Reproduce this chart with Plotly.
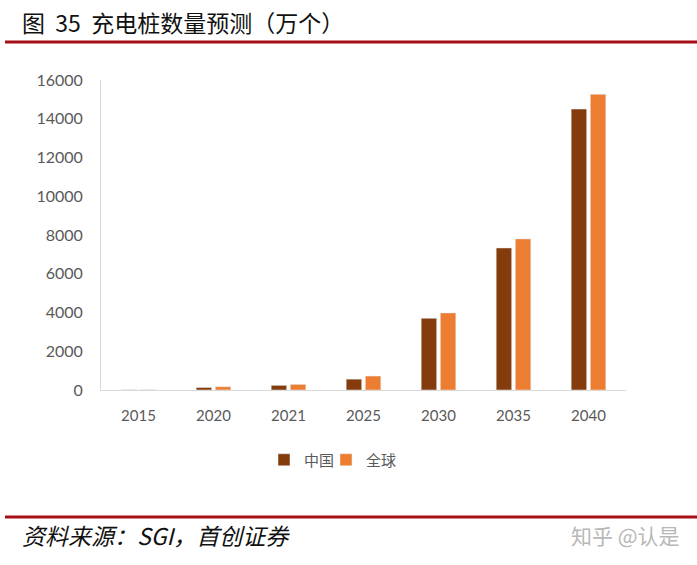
import plotly.graph_objects as go

years = ["2015", "2020", "2021", "2025", "2030", "2035", "2040"]
china = [6, 130, 240, 560, 3700, 7330, 14500]
world = [10, 170, 290, 720, 3980, 7800, 15260]
series_names = ["中国", "全球"]
y_ticks = [0, 2000, 4000, 6000, 8000, 10000, 12000, 14000, 16000]
y_tick_text = [str(v) for v in y_ticks]

W, H = 697, 565
L, R, T, B = 101, 71, 80, 175
PW, PH = W - L - R, H - T - B

def px(x):
    return (x - L) / PW

def py(y):
    return (H - B - y) / PH

fig = go.Figure()
fig.add_trace(go.Bar(x=years, y=china, name=series_names[0], marker_color="#843C0C", legend="legend"))
fig.add_trace(go.Bar(x=years, y=world, name=series_names[1], marker_color="#ED7D31", legend="legend2"))

leg_common = dict(orientation="h", yanchor="middle", xanchor="left", itemwidth=30,
                  font=dict(family="'Noto Sans CJK SC'", size=15, color="#595959"),
                  bgcolor="rgba(0,0,0,0)")

fig.update_layout(
    width=W, height=H,
    margin=dict(l=L, r=R, t=T, b=B, autoexpand=False),
    paper_bgcolor="white", plot_bgcolor="white",
    barmode="group", bargap=0.49, bargroupgap=0.19,
    font=dict(family="Lato, 'Noto Sans CJK SC'", size=15, color="#595959"),
    showlegend=True,
    legend=dict(x=px(264), y=py(460), **leg_common),
    legend2=dict(x=px(326), y=py(460), **leg_common),
    xaxis=dict(showline=True, linecolor="#D9D9D9", linewidth=1, ticks="", showgrid=False,
               tickfont=dict(family="Lato", size=15, color="#595959"), ticklabelstandoff=12,
               fixedrange=True),
    yaxis=dict(range=[0, 16000], tickvals=y_ticks, ticktext=y_tick_text, showline=True,
               linecolor="#D9D9D9", linewidth=1, ticks="", showgrid=False, zeroline=False,
               tickfont=dict(family="Lato", size=16, color="#595959"), ticklabelstandoff=14,
               fixedrange=True),
)

# red rules
fig.add_shape(type="line", xref="paper", yref="paper", x0=px(5), x1=px(697), y0=py(42), y1=py(42),
              line=dict(color="#A50F15", width=3))
fig.add_shape(type="line", xref="paper", yref="paper", x0=px(5), x1=px(697), y0=py(517), y1=py(517),
              line=dict(color="#A50F15", width=3))

fig.add_annotation(xref="paper", yref="paper", x=px(20), y=py(22), xanchor="left", yanchor="middle",
                   text="图  35  充电桩数量预测（万个）", showarrow=False,
                   font=dict(family="'Noto Sans CJK SC'", size=23, color="#111111"))
fig.add_annotation(xref="paper", yref="paper", x=px(20), y=py(535), xanchor="left", yanchor="middle",
                   text="<i>资料来源：SGI，首创证券</i>", showarrow=False,
                   font=dict(family="'Noto Sans CJK SC'", size=23, color="#111111"))
fig.add_annotation(xref="paper", yref="paper", x=px(682), y=py(535), xanchor="right", yanchor="middle",
                   text="知乎 @认是", showarrow=False,
                   font=dict(family="'Noto Sans CJK SC'", size=21, color="#B8B8B8"))

fig.write_html("out.html", config={"displayModeBar": False},
               post_script="document.body.style.margin='0';document.body.style.padding='0';")
